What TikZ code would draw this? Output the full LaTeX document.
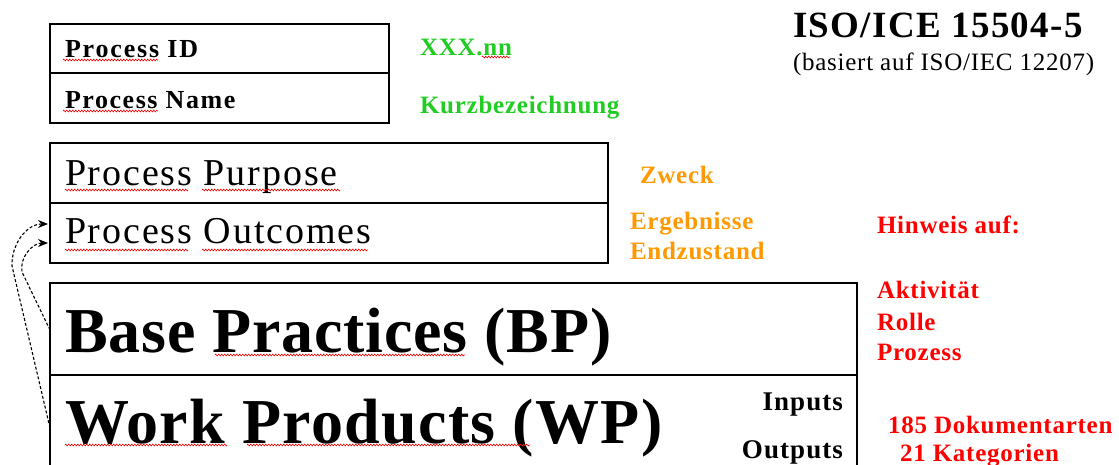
\documentclass[tikz,border=0pt]{standalone}
\usepackage{fontspec}
\setmainfont{Liberation Serif}
\usetikzlibrary{decorations.pathmorphing,arrows.meta,calc}

\definecolor{lblgreen}{RGB}{34,204,34}
\definecolor{lblorange}{RGB}{255,153,0}
\definecolor{lblred}{RGB}{255,0,0}

\tikzset{
  frame/.style={draw, line width=1.6pt, anchor=north west, inner sep=0pt, outer sep=0pt},
  txt/.style={anchor=base west, inner sep=0pt, outer sep=0pt},
  rtxt/.style={anchor=base east, inner sep=0pt, outer sep=0pt},
  % size and tracking of bold / regular text
  bsize/.style 2 args={font=\fontsize{#1}{#1}\selectfont\bfseries\addfontfeature{LetterSpace=#2}},
  rsize/.style 2 args={font=\fontsize{#1}{#1}\selectfont\addfontfeature{LetterSpace=#2}},
  conn/.style={line width=1.1pt, dash pattern=on 3pt off 2pt,
               -{Stealth[length=10pt,width=8pt]}},
  squig/.style={draw=lblred, line width=0.6pt, decorate,
                decoration={zigzag, amplitude=0.9pt, segment length=3pt}},
}

\begin{document}
\begin{tikzpicture}[x=1pt,y=-1pt]
  \useasboundingbox (0,0) rectangle (1119,464);
  \fill[white] (0,0) rectangle (1119,464);
  \clip (0,0) rectangle (1119,464);

  % process identification frame
  \node[frame, minimum width=339, minimum height=49] (pidbox) at (50,24) {};
  \node[frame, minimum width=339, minimum height=50] (pnamebox) at (50,73) {};
  \node[txt, bsize={26}{7}] (pid) at (65,57) {Process ID};
  \node[txt, bsize={26}{6}] (pname) at (65,108) {Process Name};

  % purpose and outcomes frame
  \node[frame, minimum width=558, minimum height=60] (purposebox) at (50,143) {};
  \node[frame, minimum width=558, minimum height=60] (outcomebox) at (50,203) {};
  \node[txt, rsize={38}{5}] (purpose) at (65,185) {Process Purpose};
  \node[txt, rsize={38}{5}] (outcomes) at (65,243) {Process Outcomes};

  % practices and work products frame
  \node[frame, minimum width=807, minimum height=92] (bpbox) at (50,283) {};
  \node[frame, minimum width=807, minimum height=130] (wpbox) at (50,375) {};
  \node[txt, bsize={64}{1.3}] (bp) at (65,352) {Base Practices (BP)};
  \node[txt, bsize={64}{2}] (wp) at (65,443) {Work Products (WP)};
  \node[rtxt, bsize={27}{4}] (inputs) at (843,410) {Inputs};
  \node[rtxt, bsize={27}{4}] (outputs) at (843,458) {Outputs};

  % spelling marks
  \draw[squig] (63,60) -- (158,60);
  \draw[squig] (63,111) -- (158,111);
  \draw[squig] (65,190) -- (188,190);
  \draw[squig] (202,190) -- (340,190);
  \draw[squig] (65,250) -- (188,250);
  \draw[squig] (202,250) -- (368,250);
  \draw[squig] (215,355) -- (465,355);
  \draw[squig] (65,445) -- (227,445);
  \draw[squig] (247,445) -- (530,445);
  \draw[squig] (482,57) -- (510,57);

  % links from practices and work products to the outcomes
  \coordinate (wpsrc) at ($(wpbox.north west)+(0,53)$);
  \coordinate (bpsrc) at ($(bpbox.north west)+(0,47)$);
  \coordinate (outA) at ($(outcomebox.north west)+(-2,21)$);
  \coordinate (outB) at ($(outcomebox.north west)+(-2,40)$);
  \coordinate (bendA) at (12,266);
  \coordinate (bendB) at (22,272);
  \draw[conn] (wpsrc) -- (bendA) to[out=92, in=180] (outA);
  \draw[conn] (bpsrc) -- (bendB) to[out=100, in=180] (outB);

  % side notes
  \node[txt, bsize={25}{3}, text=lblgreen] (idnote) at (420,55) {XXX.nn};
  \node[txt, bsize={25}{3}, text=lblgreen] (namenote) at (420,113) {Kurzbezeichnung};
  \node[txt, bsize={25}{3}, text=lblorange] (purposenote) at (640,183) {Zweck};
  \node[txt, bsize={25}{3}, text=lblorange] (outnote1) at (630,229) {Ergebnisse};
  \node[txt, bsize={25}{3}, text=lblorange] (outnote2) at (630,259) {Endzustand};
  \node[txt, bsize={25}{3}, text=lblred] (hint) at (877,233) {Hinweis auf:};
  \node[txt, bsize={25}{3}, text=lblred] (hint1) at (877,298) {Aktivität};
  \node[txt, bsize={25}{3}, text=lblred] (hint2) at (877,330) {Rolle};
  \node[txt, bsize={25}{3}, text=lblred] (hint3) at (877,360) {Prozess};
  \node[txt, bsize={25}{3}, text=lblred] (docs) at (888,433) {185 Dokumentarten};
  \node[txt, bsize={25}{3}, text=lblred] (cats) at (900,461) {21 Kategorien};

  % standard reference
  \node[txt, bsize={37}{3.6}] (std) at (793,37) {ISO/ICE 15504-5};
  \node[txt, rsize={25}{3}] (base) at (793,70) {(basiert auf ISO/IEC 12207)};
\end{tikzpicture}
\end{document}
